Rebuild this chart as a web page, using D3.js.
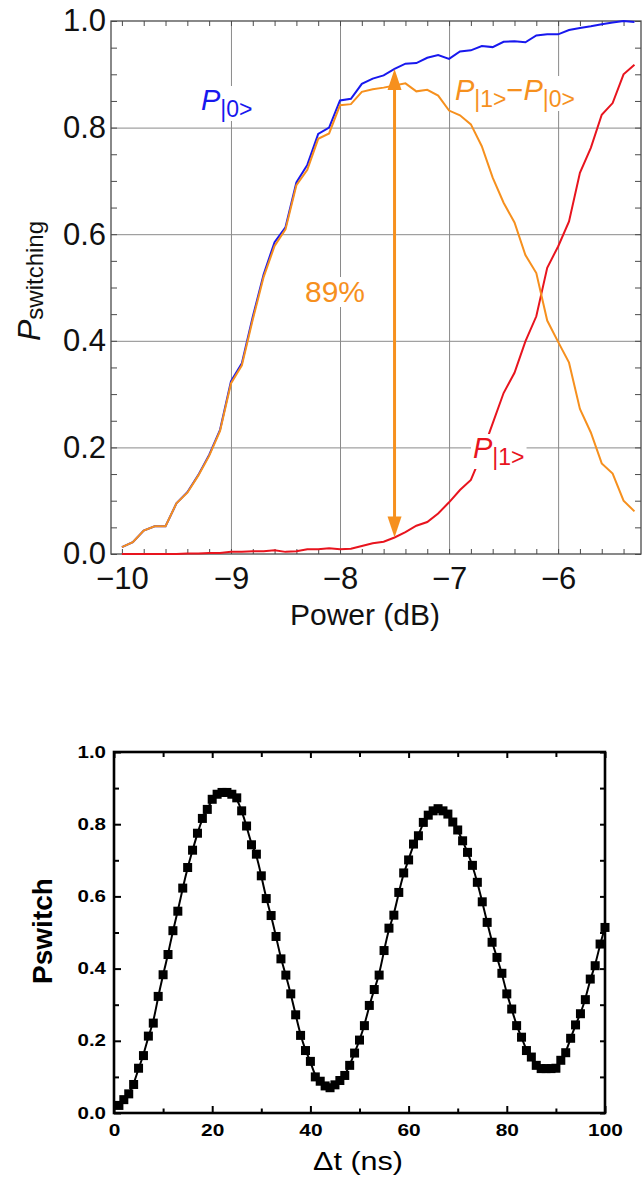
<!DOCTYPE html>
<html><head><meta charset="utf-8">
<script src="https://cdn.jsdelivr.net/npm/d3@7"></script>
<style>body{margin:0;background:#fff} svg{display:block}</style>
</head><body>
<svg id="c" width="642" height="1184"></svg>
<script>
// ---------- Top chart data ----------
const powerDb = [-10.0,-9.9,-9.8,-9.7,-9.6,-9.5,-9.4,-9.3,-9.2,-9.1,-9.0,-8.9,-8.8,-8.7,-8.6,-8.5,-8.4,-8.3,-8.2,-8.1,
  -8.0,-7.9,-7.8,-7.7,-7.6,-7.5,-7.4,-7.3,-7.2,-7.1,-7.0,-6.9,-6.8,-6.7,-6.6,-6.5,-6.4,-6.3,-6.2,-6.1,
  -6.0,-5.9,-5.8,-5.7,-5.6,-5.5,-5.4,-5.3];
const pZero = [0.013,0.022,0.044,0.052,0.052,0.095,0.116,0.148,0.186,0.233,0.324,0.358,0.445,0.525,0.585,0.613,0.697,0.730,0.788,0.800,
  0.851,0.854,0.882,0.892,0.898,0.910,0.920,0.921,0.931,0.936,0.929,0.943,0.945,0.953,0.951,0.961,0.962,0.960,0.973,0.975,
  0.975,0.983,0.987,0.990,0.994,0.997,1.000,0.998];
const pOne = [0,0,0,0,0,0,0.001,0.001,0.002,0.002,0.004,0.004,0.005,0.005,0.007,0.004,0.005,0.009,0.009,0.011,
  0.009,0.010,0.015,0.020,0.023,0.031,0.041,0.053,0.060,0.076,0.097,0.120,0.139,0.188,0.245,0.302,0.340,0.399,0.446,0.537,
  0.577,0.624,0.715,0.762,0.824,0.846,0.900,0.918];
const pDiff = [0.013,0.022,0.044,0.052,0.052,0.095,0.115,0.147,0.184,0.231,0.320,0.354,0.440,0.520,0.578,0.609,0.692,0.721,0.779,0.789,
  0.842,0.844,0.867,0.872,0.875,0.879,0.883,0.868,0.871,0.860,0.832,0.823,0.806,0.765,0.706,0.659,0.622,0.561,0.527,0.438,
  0.398,0.359,0.272,0.228,0.170,0.151,0.100,0.080];
const arrowAt = [-7.5];
const arrowSpan = [0.031, 0.910];
const topXTicks = [-10,-9,-8,-7,-6];
const topYTicks = [0,0.2,0.4,0.6,0.8,1.0];
const topXGrid = [-9,-8,-7,-6];
const topYGrid = [0.2,0.4,0.6,0.8];

// ---------- Bottom chart data ----------
const delayNs = [1,2,3,4,5,6,7,8,9,10,11,12,13,14,15,16,17,18,19,20,21,22,23,24,25,26,27,28,29,30,
  31,32,33,34,35,36,37,38,39,40,41,42,43,44,45,46,47,48,49,50,51,52,53,54,55,56,57,58,59,60,
  61,62,63,64,65,66,67,68,69,70,71,72,73,74,75,76,77,78,79,80,81,82,83,84,85,86,87,88,89,90,
  91,92,93,94,95,96,97,98,99,100];
const pSwitch = [0.021,0.037,0.053,0.079,0.124,0.159,0.213,0.249,0.323,0.383,0.439,0.505,0.559,0.623,0.680,0.728,0.775,0.816,0.841,0.869,
  0.883,0.888,0.888,0.883,0.873,0.837,0.795,0.743,0.717,0.657,0.594,0.547,0.489,0.427,0.382,0.330,0.272,0.215,0.173,0.143,
  0.100,0.088,0.075,0.070,0.078,0.090,0.104,0.132,0.166,0.202,0.242,0.298,0.342,0.382,0.450,0.512,0.548,0.611,0.665,0.701,
  0.745,0.768,0.805,0.825,0.837,0.843,0.837,0.828,0.806,0.784,0.754,0.722,0.686,0.639,0.585,0.528,0.473,0.431,0.387,0.330,
  0.288,0.242,0.210,0.173,0.155,0.132,0.123,0.123,0.123,0.124,0.146,0.167,0.207,0.244,0.275,0.314,0.371,0.408,0.468,0.514];
const botXTicks = [0,20,40,60,80,100];
const botXMinor = [10,30,50,70,90];
const botYTicks = [0,0.2,0.4,0.6,0.8,1.0];
const botYMinor = [0.1,0.3,0.5,0.7,0.9];

const FONT = "'Liberation Sans', Arial, sans-serif";
const BLUE = "#1818ee", ORANGE = "#f6901e", RED = "#e8141e";
const svg = d3.select("#c");

// =============== TOP CHART ===============
const xT = d3.scaleLinear().domain([-10.1, -5.24]).range([111, 641]);
const yT = d3.scaleLinear().domain([0, 1]).range([554, 21]);
const gT = svg.append("g");
const axisCol = "#4a4a4a";

// gridlines
gT.append("g").attr("transform", `translate(0,${yT(0)})`)
  .call(d3.axisBottom(xT).tickValues(topXGrid).tickSize(-(yT(0)-yT(1))).tickFormat(""))
  .call(g => g.select(".domain").remove())
  .call(g => g.selectAll("line").attr("stroke", "#8a8a8a").attr("stroke-width", 1));
gT.append("g").attr("transform", `translate(${xT.range()[0]},0)`)
  .call(d3.axisLeft(yT).tickValues(topYGrid).tickSize(-(xT.range()[1]-xT.range()[0])).tickFormat(""))
  .call(g => g.select(".domain").remove())
  .call(g => g.selectAll("line").attr("stroke", "#8a8a8a").attr("stroke-width", 1));

// minor ticks
const xMinorT = d3.range(-10, -5.3, 0.2);
const yMinorT = d3.range(0, 1.001, 0.05);
gT.append("g").attr("transform", `translate(0,${yT(0)})`)
  .call(d3.axisBottom(xT).tickValues(xMinorT).tickSize(-5).tickFormat(""))
  .call(g => g.select(".domain").remove())
  .call(g => g.selectAll("line").attr("stroke", axisCol));
gT.append("g").attr("transform", `translate(0,${yT(1)})`)
  .call(d3.axisTop(xT).tickValues(xMinorT).tickSize(-5).tickFormat(""))
  .call(g => g.select(".domain").remove())
  .call(g => g.selectAll("line").attr("stroke", axisCol));
gT.append("g").attr("transform", `translate(${xT.range()[0]},0)`)
  .call(d3.axisLeft(yT).tickValues(yMinorT).tickSize(-6).tickFormat(""))
  .call(g => g.select(".domain").remove())
  .call(g => g.selectAll("line").attr("stroke", axisCol));
gT.append("g").attr("transform", `translate(${xT.range()[1]},0)`)
  .call(d3.axisRight(yT).tickValues(yMinorT).tickSize(-6).tickFormat(""))
  .call(g => g.select(".domain").remove())
  .call(g => g.selectAll("line").attr("stroke", axisCol));

// frame
gT.append("rect").attr("x", xT.range()[0]).attr("y", yT(1))
  .attr("width", xT.range()[1]-xT.range()[0]).attr("height", yT(0)-yT(1))
  .attr("fill", "none").attr("stroke", axisCol).attr("stroke-width", 1.3);

// tick labels
gT.append("g").attr("transform", `translate(0,${yT(0)})`)
  .call(d3.axisBottom(xT).tickValues(topXTicks).tickSize(0).tickPadding(13).tickFormat(d3.format("d")))
  .call(g => g.select(".domain").remove())
  .call(g => g.selectAll("text").attr("font-family", FONT).attr("font-size", 31).attr("fill", "#111"));
gT.append("g").attr("transform", `translate(${xT.range()[0]},0)`)
  .call(d3.axisLeft(yT).tickValues(topYTicks).tickSize(0).tickPadding(5).tickFormat(d3.format(".1f")))
  .call(g => g.select(".domain").remove())
  .call(g => g.selectAll("text").attr("font-family", FONT).attr("font-size", 31).attr("fill", "#111"));

// curves
const topRows = powerDb.map((p, i) => ({p, z: pZero[i], o: pOne[i], d: pDiff[i]}));
const lineOf = key => d3.line().x(d => xT(d.p)).y(d => yT(d[key]));
gT.append("path").datum(topRows).attr("d", lineOf("z")).attr("fill", "none").attr("stroke", BLUE).attr("stroke-width", 2);
gT.append("path").datum(topRows).attr("d", lineOf("o")).attr("fill", "none").attr("stroke", RED).attr("stroke-width", 2);
gT.append("path").datum(topRows).attr("d", lineOf("d")).attr("fill", "none").attr("stroke", ORANGE).attr("stroke-width", 2);

// arrow
const ax = xT(arrowAt[0]), ay0 = yT(arrowSpan[0]), ay1 = yT(arrowSpan[1]);
const hl = 21, hw = 7;
gT.append("line").attr("x1", ax).attr("x2", ax).attr("y1", ay0 - hl + 2).attr("y2", ay1 + hl - 2)
  .attr("stroke", ORANGE).attr("stroke-width", 3);
gT.append("path").attr("d", `M${ax},${ay1} L${ax-hw},${ay1+hl} L${ax+hw},${ay1+hl} Z`).attr("fill", ORANGE);
gT.append("path").attr("d", `M${ax},${ay0} L${ax-hw},${ay0-hl} L${ax+hw},${ay0-hl} Z`).attr("fill", ORANGE);

// labels with white background
function label(x, y, color, parts) {
  const g = gT.append("g");
  const t = g.append("text").attr("x", x).attr("y", y).attr("font-family", FONT).attr("fill", color);
  let cur = 0;
  parts.forEach(pt => {
    const s = t.append("tspan").text(pt.t).attr("font-size", pt.s);
    if (pt.i) s.attr("font-style", "italic");
    const shift = (pt.dy || 0) - cur;
    if (shift) s.attr("dy", shift);
    cur = pt.dy || 0;
  });
  const b = t.node().getBBox();
  g.insert("rect", "text").attr("x", b.x - 2).attr("y", b.y + 2).attr("width", b.width + 4).attr("height", b.height - 3).attr("fill", "#fff");
}
label(201, 110, BLUE, [{t: "P", s: 29, i: true}, {t: "|0>", s: 23, dy: 7}]);
label(455, 100, ORANGE, [{t: "P", s: 29, i: true}, {t: "|1>", s: 23, dy: 7}, {t: "\u2212", s: 29}, {t: "P", s: 29, i: true}, {t: "|0>", s: 23, dy: 7}]);
label(473, 458, RED, [{t: "P", s: 29, i: true}, {t: "|1>", s: 23, dy: 7}]);
label(305, 302, ORANGE, [{t: "89%", s: 30}]);

// axis titles
gT.append("text").attr("x", 365).attr("y", 625).attr("text-anchor", "middle")
  .attr("font-family", FONT).attr("font-size", 30).attr("fill", "#111").text("Power (dB)");
const yl = gT.append("text").attr("transform", "translate(40,281) rotate(-90)").attr("text-anchor", "middle")
  .attr("font-family", FONT).attr("fill", "#111");
yl.append("tspan").attr("font-size", 32).attr("font-style", "italic").text("P");
yl.append("tspan").attr("font-size", 24).attr("dy", 3).text("switching");

// =============== BOTTOM CHART ===============
const xB = d3.scaleLinear().domain([0, 100]).range([114, 605]);
const yB = d3.scaleLinear().domain([0, 1]).range([1113, 752]);
const gB = svg.append("g");

function ticks(axisFn, scale, vals, size, tr) {
  gB.append("g").attr("transform", tr)
    .call(axisFn(scale).tickValues(vals).tickSize(size).tickFormat(""))
    .call(g => g.select(".domain").remove())
    .call(g => g.selectAll("line").attr("stroke", "#000").attr("stroke-width", 2));
}
ticks(d3.axisBottom, xB, botXTicks, -7, `translate(0,${yB(0)})`);
ticks(d3.axisBottom, xB, botXMinor, -4.5, `translate(0,${yB(0)})`);
ticks(d3.axisTop, xB, botXTicks, -6, `translate(0,${yB(1)})`);
ticks(d3.axisTop, xB, botXMinor, -5, `translate(0,${yB(1)})`);
ticks(d3.axisLeft, yB, botYTicks, -7, `translate(${xB(0)},0)`);
ticks(d3.axisLeft, yB, botYMinor, -5, `translate(${xB(0)},0)`);
ticks(d3.axisRight, yB, botYTicks, -5, `translate(${xB(100)},0)`);
ticks(d3.axisRight, yB, botYMinor, -5, `translate(${xB(100)},0)`);

gB.append("rect").attr("x", xB(0)).attr("y", yB(1)).attr("width", xB(100)-xB(0)).attr("height", yB(0)-yB(1))
  .attr("fill", "none").attr("stroke", "#000").attr("stroke-width", 2.6);

gB.append("g").attr("transform", `translate(0,${yB(0)})`)
  .call(d3.axisBottom(xB).tickValues(botXTicks).tickSize(0).tickPadding(12).tickFormat(d3.format("d")))
  .call(g => g.select(".domain").remove())
  .call(g => g.selectAll("text").attr("font-family", FONT).attr("font-size", 16).attr("font-weight", "bold")
     .attr("fill", "#000").attr("lengthAdjust", "spacingAndGlyphs").attr("textLength", d => String(d).length * 11.6));
gB.append("g").attr("transform", `translate(${xB(0)},0)`)
  .call(d3.axisLeft(yB).tickValues(botYTicks).tickSize(0).tickPadding(8).tickFormat(d3.format(".1f")))
  .call(g => g.select(".domain").remove())
  .call(g => g.selectAll("text").attr("font-family", FONT).attr("font-size", 16).attr("font-weight", "bold")
     .attr("fill", "#000").attr("lengthAdjust", "spacingAndGlyphs").attr("textLength", 28.5));

const botRows = delayNs.map((t, i) => ({t, v: pSwitch[i]}));
gB.append("path").datum(botRows)
  .attr("d", d3.line().x(d => xB(d.t)).y(d => yB(d.v)).curve(d3.curveBasis))
  .attr("fill", "none").attr("stroke", "#000").attr("stroke-width", 2);
const ms = 9;
gB.append("g").selectAll("rect").data(botRows).join("rect")
  .attr("x", d => xB(d.t) - ms/2).attr("y", d => yB(d.v) - ms/2).attr("width", ms).attr("height", ms).attr("fill", "#000");

gB.append("text").attr("x", 313).attr("y", 1170).attr("font-family", FONT).attr("font-size", 26)
  .attr("lengthAdjust", "spacingAndGlyphs").attr("textLength", 90).attr("fill", "#000").text("\u0394t (ns)");
gB.append("text").attr("transform", "translate(52,931) rotate(-90)").attr("text-anchor", "middle")
  .attr("font-family", FONT).attr("font-size", 28).attr("font-weight", "bold").attr("fill", "#000").text("Pswitch");
</script>
</body></html>
